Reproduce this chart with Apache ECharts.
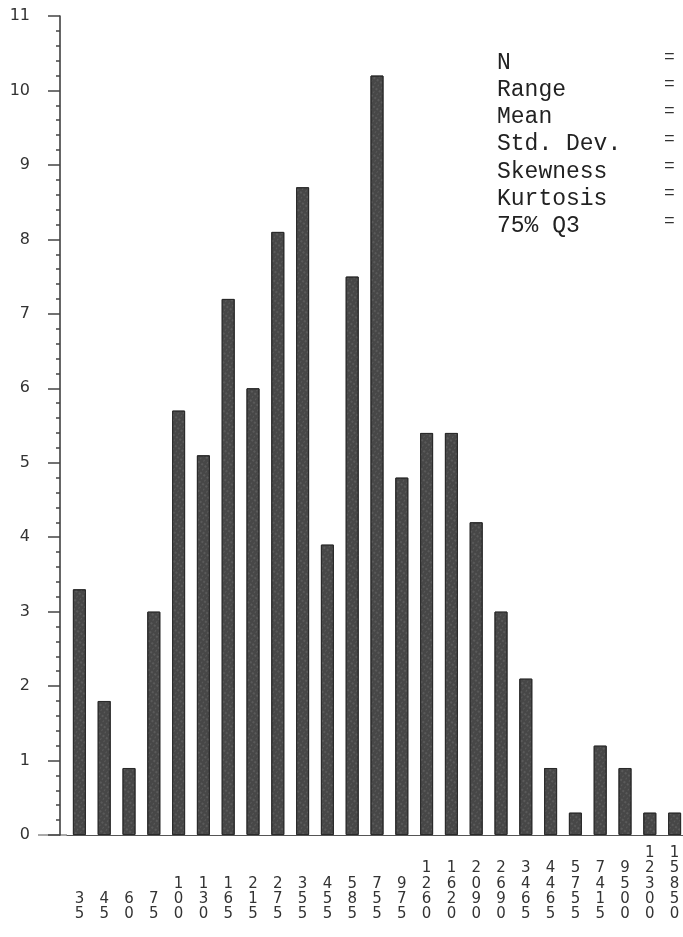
<!DOCTYPE html>
<html>
<head>
<meta charset="utf-8">
<script src="https://cdn.jsdelivr.net/npm/echarts@6/dist/echarts.min.js"></script>
<style>
html,body{margin:0;padding:0;background:#fff;overflow:hidden;}
#c{width:690px;height:937px;}
</style>
</head>
<body>
<div id="c"></div>
<script>
var categories = ['35','45','60','75','100','130','165','215','275','355','455','585','755','975','1260','1620','2090','2690','3465','4465','5755','7415','9500','12300','15850'];
var values = [3.3,1.8,0.9,3.0,5.7,5.1,7.2,6.0,8.1,8.7,3.9,7.5,10.2,4.8,5.4,5.4,4.2,3.0,2.1,0.9,0.3,1.2,0.9,0.3,0.3];
var yTicks = [0,1,2,3,4,5,6,7,8,9,10,11];
var statLabels = ['N','Range','Mean','Std. Dev.','Skewness','Kurtosis','75% Q3'];

var chart = echarts.init(document.getElementById('c'), null, {renderer:'canvas'});

var graphics = [];
statLabels.forEach(function(s, i){
  graphics.push({type:'text', left:497, top:51 + i*27.3,
    style:{text:s, font:'23px "Courier New", "Liberation Mono", monospace', fill:'#222'}});
  graphics.push({type:'text', left:664, top:48 + i*27.3,
    style:{text:'=', font:'18px "Courier New", "Liberation Mono", monospace', fill:'#333'}});
});

chart.setOption({
  animation:false,
  backgroundColor:'#fff',
  grid:{left:67, right:3, top:16, bottom:102},
  xAxis:{
    type:'category',
    data:categories,
    axisLine:{show:true, lineStyle:{color:'#555', width:1}},
    axisTick:{show:false},
    axisLabel:{
      interval:0,
      margin:87,
      verticalAlign:'bottom',
      lineHeight:15.3,
      fontSize:15,
      fontFamily:'"DejaVu Sans", sans-serif',
      color:'#333',
      formatter:function(v){ return v.split('').join('\n'); }
    }
  },
  yAxis:{
    type:'value',
    min:0, max:11, interval:1,
    offset:7,
    axisLine:{show:true, lineStyle:{color:'#333', width:1.5}},
    axisTick:{show:true, length:12, lineStyle:{color:'#444', width:1.5}},
    minorTick:{show:true, splitNumber:5, length:4, lineStyle:{color:'#444', width:1.5}},
    splitLine:{show:false},
    axisLabel:{
      margin:30,
      fontSize:16,
      fontFamily:'"DejaVu Sans", sans-serif',
      color:'#333',
      formatter:function(v){ return yTicks.indexOf(v) >= 0 ? String(v) : ''; }
    }
  },
  series:[{
    type:'bar',
    data:values,
    barWidth:13,
    itemStyle:{
      color:'#474747',
      borderColor:'#2a2a2a',
      borderWidth:1,
      decal:{
        symbol:'rect',
        symbolSize:0.6,
        color:'rgba(255,255,255,0.35)',
        dashArrayX:[[2,2],[1,3]],
        dashArrayY:[2,2],
        rotation:0.6
      }
    }
  }],
  graphic:graphics
});

// extend the baseline to the left of the value axis, as in the reference
var y0 = chart.convertToPixel({yAxisIndex:0}, 0);
graphics.push({type:'line', shape:{x1:38, y1:y0, x2:67, y2:y0}, style:{stroke:'#555', lineWidth:1}});
chart.setOption({graphic:graphics});
</script>
</body>
</html>
